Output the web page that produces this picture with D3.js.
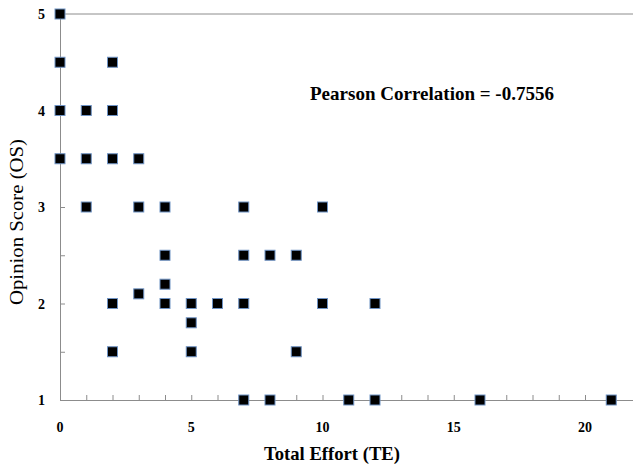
<!DOCTYPE html>
<html>
<head>
<meta charset="utf-8">
<script src="https://cdn.jsdelivr.net/npm/d3@7"></script>
<style>
  body { margin: 0; background: #fff; }
</style>
</head>
<body>
<svg id="chart" width="633" height="467"></svg>
<script>
// Total Effort (TE) vs Opinion Score (OS)
const effort = [0, 0, 2, 0, 1, 2, 0, 1, 2, 3, 1, 3, 4, 7, 10, 4, 7, 8, 9, 4, 3, 2, 4, 5, 6, 7, 10, 12, 5, 2, 5, 9, 7, 8, 11, 12, 16, 21];
const opinion = [5, 4.5, 4.5, 4, 4, 4, 3.5, 3.5, 3.5, 3.5, 3, 3, 3, 3, 3, 2.5, 2.5, 2.5, 2.5, 2.2, 2.1, 2, 2, 2, 2, 2, 2, 2, 1.8, 1.5, 1.5, 1.5, 1, 1, 1, 1, 1, 1];
const xTickLabels = [0, 5, 10, 15, 20];
const yTickLabels = [1, 2, 3, 4, 5];
const note = "Pearson Correlation = -0.7556";

const svg = d3.select("#chart");

const x = d3.scaleLinear().domain([0, 22]).range([60, 637.5]);
const y = d3.scaleLinear().domain([1, 5]).range([400, 14]);

const axisColor = "#8c8c8c";

// top border line at y = 5
svg.append("line")
  .attr("x1", x(0)).attr("x2", 633)
  .attr("y1", y(5)).attr("y2", y(5))
  .attr("stroke", axisColor).attr("stroke-width", 1);

// x axis with inner ticks each unit
const xAxis = svg.append("g")
  .attr("transform", `translate(0,${y(1)})`)
  .call(d3.axisBottom(x).tickValues(d3.range(0, 23, 1)).tickSizeInner(-5).tickSizeOuter(0).tickFormat(""));
xAxis.selectAll("path, line").attr("stroke", axisColor);

// y axis with inner ticks each half unit
const yAxis = svg.append("g")
  .attr("transform", `translate(${x(0)},0)`)
  .call(d3.axisLeft(y).tickValues(d3.range(1, 5.01, 0.5)).tickSizeInner(-5).tickSizeOuter(0).tickFormat(""));
yAxis.selectAll("path, line").attr("stroke", axisColor);

// tick labels
svg.append("g")
  .attr("font-family", "Liberation Serif")
  .attr("font-weight", "bold")
  .attr("font-size", 14)
  .attr("text-anchor", "middle")
  .selectAll("text")
  .data(xTickLabels)
  .join("text")
  .attr("x", d => x(d))
  .attr("y", 432)
  .text(d => d);

svg.append("g")
  .attr("font-family", "Liberation Serif")
  .attr("font-weight", "bold")
  .attr("font-size", 14)
  .attr("text-anchor", "end")
  .selectAll("text")
  .data(yTickLabels)
  .join("text")
  .attr("x", 45)
  .attr("y", d => y(d) + 5)
  .text(d => d);

// axis titles
svg.append("text")
  .attr("x", 332).attr("y", 460)
  .attr("text-anchor", "middle")
  .attr("font-family", "Liberation Serif")
  .attr("font-weight", "bold")
  .attr("font-size", 19)
  .attr("textLength", 136)
  .attr("lengthAdjust", "spacingAndGlyphs")
  .text("Total Effort (TE)");

svg.append("text")
  .attr("transform", "translate(23,222) rotate(-90)")
  .attr("text-anchor", "middle")
  .attr("font-family", "Liberation Serif")
  .attr("font-size", 19)
  .attr("textLength", 166)
  .attr("lengthAdjust", "spacingAndGlyphs")
  .text("Opinion Score (OS)");

svg.append("text")
  .attr("x", 310).attr("y", 100)
  .attr("font-family", "Liberation Serif")
  .attr("font-weight", "bold")
  .attr("font-size", 19)
  .attr("textLength", 244)
  .attr("lengthAdjust", "spacingAndGlyphs")
  .text(note);

// markers
const s = 10;
svg.append("g")
  .selectAll("rect")
  .data(d3.range(effort.length))
  .join("rect")
  .attr("x", i => x(effort[i]) - s / 2)
  .attr("y", i => y(opinion[i]) - s / 2)
  .attr("width", s)
  .attr("height", s)
  .attr("fill", "#000")
  .attr("stroke", "#6f93c4")
  .attr("stroke-width", 1);
</script>
</body>
</html>
